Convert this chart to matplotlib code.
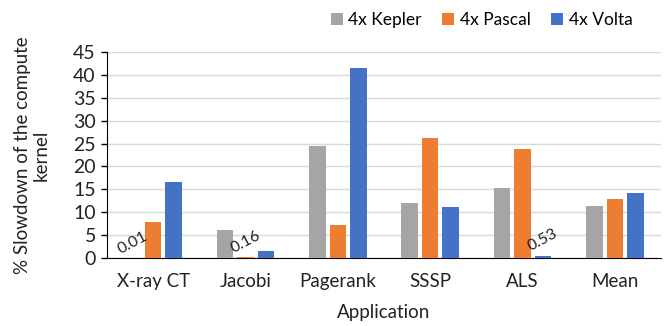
import matplotlib
matplotlib.use("Agg")
import matplotlib.pyplot as plt
import numpy as np

applications = ["X-ray CT", "Jacobi", "Pagerank", "SSSP", "ALS", "Mean"]
series_names = ["4x Kepler", "4x Pascal", "4x Volta"]
kepler = [0.01, 6.1, 24.4, 12.1, 15.4, 11.4]
pascal = [7.9, 0.16, 7.3, 26.3, 23.9, 12.9]
volta = [16.6, 1.6, 41.6, 11.2, 0.53, 14.1]
small_labels = [(0, 0, "0.01"), (1, 1, "0.16"), (4, 2, "0.53")]  # (app idx, series idx, text)

colors = ["#a5a5a5", "#ed7d31", "#4472c4"]

plt.rcParams["font.family"] = ["Lato", "DejaVu Sans"]

fig = plt.figure(figsize=(6.7, 3.26), dpi=100)
ax = fig.add_axes([107 / 670, 1 - 258 / 326, (661 - 107) / 670, (258 - 52) / 326])

x = np.arange(len(applications))
width = 0.18
step = 0.222
all_series = [kepler, pascal, volta]
for i, (name, vals, c) in enumerate(zip(series_names, all_series, colors)):
    ax.bar(x + (i - 1) * step, vals, width, color=c, label=name, zorder=3)

for ai, si, txt in small_labels:
    ax.annotate(txt, (x[ai] + (si - 1) * step, all_series[si][ai]),
                xytext=(0, 11), textcoords="offset points",
                ha="center", va="center", rotation=28, fontsize=11.5, color="#222222")

ax.set_xlim(-0.5, len(applications) - 0.5)
ax.set_ylim(0, 45)
ax.set_yticks(np.arange(0, 46, 5))
ax.set_xticks(x)
ax.set_xticklabels(applications)
ax.tick_params(axis="x", length=0, pad=11, labelsize=13.5, colors="#222222")
ax.tick_params(axis="y", length=4, width=1, pad=4, labelsize=14, colors="#222222")
ax.tick_params(axis="y", color="black")
ax.grid(axis="y", color="#d9d9d9", linewidth=1, zorder=0)
for s in ["top", "right"]:
    ax.spines[s].set_visible(False)
ax.spines["left"].set_color("black")
ax.spines["bottom"].set_color("black")

ax.set_xlabel("Application", fontsize=13.5, color="#222222", labelpad=10)
ax.set_ylabel("% Slowdown of the compute\nkernel", fontsize=13.5, color="#222222",
              labelpad=17, linespacing=1.1)

fig.legend(loc="upper right", bbox_to_anchor=(648 / 670, 1.01), ncol=3, frameon=False,
           fontsize=12.5, handlelength=0.7, handleheight=0.7, handletextpad=0.3,
           columnspacing=1.2)

fig.savefig("out.png", dpi=100)
